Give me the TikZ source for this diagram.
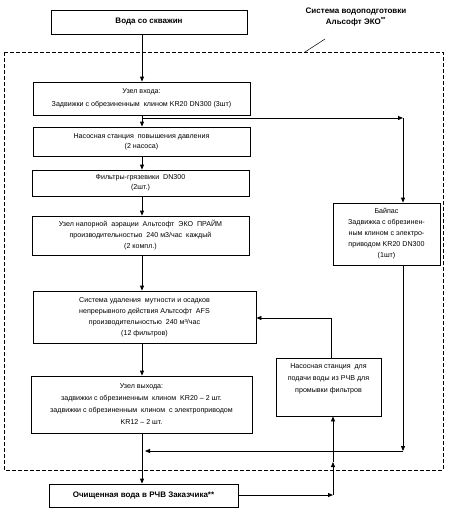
\documentclass[tikz,border=0pt]{standalone}
\usepackage{fontspec}
\setmainfont{Liberation Sans}
\usetikzlibrary{arrows.meta}
\begin{document}
\begin{tikzpicture}[x=1pt,y=-1pt,
  box/.style={draw,line width=0.8pt,rectangle,inner sep=1pt,align=center,font=\fontsize{7.1}{11}\selectfont},
  bbox/.style={box,font=\bfseries\fontsize{8}{10}\selectfont},
  arr/.style={-{Triangle[length=5pt,width=4pt]},line width=0.8pt},
  ln/.style={line width=0.8pt}]
\useasboundingbox (0,0) rectangle (454,523);
\fill[white] (0,0) rectangle (454,523);
% frame
\draw[line width=0.8pt,dash pattern=on 4pt off 2pt] (4,52) rectangle (443,470);
\node[font=\bfseries\fontsize{8}{11}\selectfont,align=center] (title) at (356,17) {Система водоподготовки\\Альсофт ЭКО\textsuperscript{**}};
\coordinate (ld1) at (305,52);
\coordinate (ld2) at (325,39);
\draw[line width=0.5pt] (ld1) -- (ld2);
% boxes
\node[bbox,minimum width=196pt,minimum height=24pt] (voda) at (149,22) {Вода со скважин};
\node[box,minimum width=217pt,minimum height=33pt,font=\fontsize{7.1}{13}\selectfont] (vhod) at (141.5,98.5) {Узел входа:\\Задвижки с обрезиненным\ \ клином KR20 DN300\ (3шт)};
\node[box,minimum width=217pt,minimum height=29pt,font=\fontsize{7.1}{10}\selectfont] (nas1) at (141.5,141.5) {Насосная станция\ \ повышения давления\\(2 насоса)};
\node[box,minimum width=217pt,minimum height=26pt,font=\fontsize{7.1}{10}\selectfont] (filtr) at (140.5,183) {Фильтры-грязевики\ \ DN300\\(2шт.)};
\node[box,minimum width=217pt,minimum height=39pt,font=\fontsize{7.1}{11}\selectfont] (aer) at (140.5,235.5) {Узел напорной\ \ аэрации\ \ Альтсофт\ \ ЭКО\ \ ПРАЙМ\\производительностью\ \ 240\ м3/час\ \ каждый\\(2 компл.)};
\node[box,minimum width=223pt,minimum height=52pt,font=\fontsize{7.1}{11}\selectfont] (afs) at (144.5,317) {Система удаления\ \ мутности и осадков\\непрерывного действия Альтсофт\ \ AFS\\производительностью\ \ 240\ м³/час\\(12 фильтров)};
\node[box,minimum width=221pt,minimum height=57pt,font=\fontsize{7.1}{12}\selectfont] (vyh) at (141.5,404.5) {Узел выхода:\\задвижки с обрезиненным\ \ клином\ \ KR20 – 2 шт.\\задвижки с обрезиненным\ \ клином\ \ с электроприводом\\KR12 – 2 шт.};
\node[bbox,minimum width=189pt,minimum height=23pt] (och) at (143.5,495.5) {Очищенная вода в РЧВ Заказчика**};
\node[box,minimum width=107pt,minimum height=62pt,font=\fontsize{7.1}{11}\selectfont] (byp) at (386.5,234) {Байпас\\Задвижка\ с обрезинен-\\ным клином с электро-\\приводом KR20 DN300\\(1шт)};
\node[box,minimum width=105pt,minimum height=58pt,font=\fontsize{7.1}{12}\selectfont] (nas2) at (328.5,387) {Насосная станция\ \ для\\подачи воды\ из РЧВ для\\промывки фильтров\\[6pt]};
% coordinates
\coordinate (col) at (142,0);
\coordinate (b1) at (142,118);
\coordinate (b2) at (403,118);
\coordinate (j1) at (403,451);
\coordinate (j2) at (145,451);
\coordinate (j3) at (333,451);
\coordinate (r1) at (331,318);
\coordinate (o1) at (333,495);
\coordinate (o2) at (333,462);
% main flow
\draw[arr] (voda.south -| col) -- (vhod.north -| col);
\draw[arr] (vhod.south -| col) -- (nas1.north -| col);
\draw[arr] (nas1.south -| col) -- (filtr.north -| col);
\draw[arr] (filtr.south -| col) -- (aer.north -| col);
\draw[arr] (aer.south -| col) -- (afs.north -| col);
\draw[arr] (afs.south -| col) -- (vyh.north -| col);
\draw[arr] (vyh.south -| col) -- (och.north -| col);
% bypass
\draw[arr] (b1) -- (b2);
\draw[arr] (b2) -- (byp.north -| b2);
\draw[arr] (byp.south -| j1) -- (j1);
\draw[arr] (j1) -- (j2);
% wash pump
\draw[arr] (j3) -- (nas2.south -| j3);
\draw[ln] (nas2.north -| r1) -- (r1);
\draw[arr] (r1) -- (afs.east |- r1);
% output
\draw[arr] (och.east |- o1) -- (o1);
\draw[arr] (o1) -- (o2);
\draw[ln] (o2) -- (j3);
\end{tikzpicture}
\end{document}
